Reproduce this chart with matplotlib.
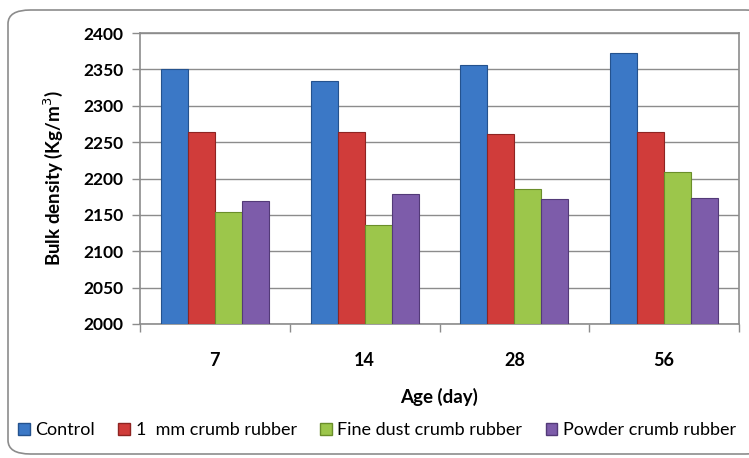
import matplotlib.pyplot as plt
import numpy as np
from matplotlib.patches import FancyBboxPatch, Patch

ages = ["7", "14", "28", "56"]
series_names = ["Control", "1  mm crumb rubber", "Fine dust crumb rubber", "Powder crumb rubber"]
control = [2350, 2334, 2356, 2372]
crumb_1mm = [2264, 2264, 2261, 2264]
fine_dust = [2154, 2136, 2186, 2209]
powder = [2169, 2179, 2172, 2173]

colors = ["#3B78C6", "#D03C3A", "#9CC64B", "#7D5CAA"]
edges = ["#24528E", "#8E2422", "#6A8E2A", "#533A78"]

plt.rcParams["font.family"] = ["Lato", "DejaVu Sans"]

fig = plt.figure(figsize=(7.49, 4.58), dpi=100)

# rounded chart frame
frame = FancyBboxPatch((8 / 749, 4 / 458), 760 / 749, 444 / 458,
                       boxstyle="round,pad=0,rounding_size=0.03",
                       transform=fig.transFigure, facecolor="white",
                       edgecolor="#8C8C8C", linewidth=1.2, zorder=-5)
fig.patches.append(frame)

ax = fig.add_axes([140 / 749, 134 / 458, 599 / 749, 291 / 458])
ax.set_zorder(2)
ax.set_facecolor("none")

x = np.arange(len(ages))
w = 0.18
for i, vals in enumerate([control, crumb_1mm, fine_dust, powder]):
    ax.bar(x + (i - 1.5) * w, np.array(vals) - 2000, bottom=2000, width=w,
           color=colors[i], edgecolor=edges[i], linewidth=0.8, zorder=3)

ax.set_xlim(-0.5, 3.5)
ax.set_ylim(2000, 2400)
ax.set_yticks(range(2000, 2401, 50))
ax.yaxis.grid(True, color="#8C8C8C", linewidth=1.0)
ax.set_axisbelow(True)

ax.set_xticks(x)
ax.set_xticklabels(ages, fontweight="bold", fontsize=13)
ax.set_xticks(np.arange(-0.5, 4, 1), minor=True)
ax.tick_params(axis="x", which="major", length=0, pad=20)
ax.tick_params(axis="x", which="minor", length=6, color="#8C8C8C", width=1)
ax.tick_params(axis="y", length=6, color="#8C8C8C", width=1, labelsize=12.5, pad=6)
for lab in ax.get_yticklabels():
    lab.set_fontweight("bold")

for side in ["top", "right", "left", "bottom"]:
    ax.spines[side].set_color("#8C8C8C")
    ax.spines[side].set_linewidth(1.2)

ax.set_xlabel("Age (day)", fontweight="bold", fontsize=13.5, labelpad=14)
ax.set_ylabel("Bulk density (Kg/m$^3$)", fontweight="bold", fontsize=13.5, labelpad=13)

handles = [Patch(facecolor=c, edgecolor=e) for c, e in zip(colors, edges)]
fig.legend(handles, series_names, loc="center left", bbox_to_anchor=(18 / 749, 28 / 458),
           ncol=4, frameon=False, fontsize=13, handlelength=0.65, handleheight=0.65,
           handletextpad=0.3, columnspacing=1.3, borderaxespad=0, borderpad=0)

fig.savefig("out.png", dpi=100)
